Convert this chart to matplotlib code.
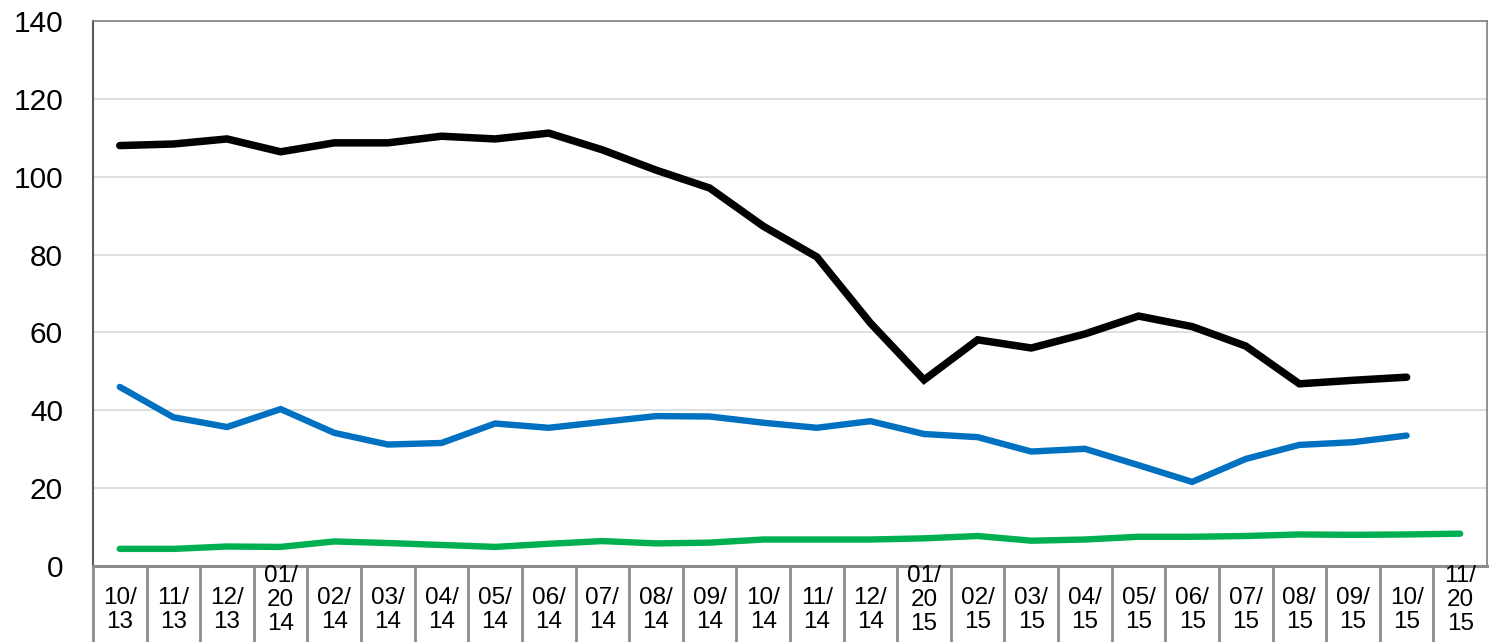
import numpy as np
import matplotlib
matplotlib.use("Agg")
import matplotlib.pyplot as plt
from matplotlib.lines import Line2D

plt.rcParams["font.family"] = ["Liberation Sans", "DejaVu Sans"]

months = ["10/\n13", "11/\n13", "12/\n13", "01/\n20\n14", "02/\n14", "03/\n14", "04/\n14",
          "05/\n14", "06/\n14", "07/\n14", "08/\n14", "09/\n14", "10/\n14", "11/\n14",
          "12/\n14", "01/\n20\n15", "02/\n15", "03/\n15", "04/\n15", "05/\n15", "06/\n15",
          "07/\n15", "08/\n15", "09/\n15", "10/\n15", "11/\n20\n15"]

# last month has no value for the black and blue series
black_vals = [108.0, 108.4, 109.7, 106.4, 108.7, 108.7, 110.4, 109.7, 111.2, 106.9,
              101.7, 97.1, 87.3, 79.4, 62.4, 47.8, 58.1, 56.0, 59.6, 64.2,
              61.5, 56.5, 46.8, 47.7, 48.5, np.nan]
blue_vals = [46.0, 38.2, 35.7, 40.3, 34.2, 31.2, 31.6, 36.6, 35.5, 37.0,
             38.5, 38.4, 36.8, 35.5, 37.2, 33.9, 33.1, 29.4, 30.1, 25.9,
             21.6, 27.5, 31.1, 31.8, 33.5, np.nan]
green_vals = [4.4, 4.4, 5.0, 4.9, 6.3, 5.9, 5.4, 4.9, 5.7, 6.4,
              5.8, 6.0, 6.8, 6.8, 6.8, 7.1, 7.7, 6.5, 6.8, 7.5,
              7.5, 7.7, 8.1, 8.0, 8.1, 8.3]
yticks = [0, 20, 40, 60, 80, 100, 120, 140]

fig = plt.figure(figsize=(14.9, 6.42), dpi=100)
ax = fig.add_axes([0.0624, 0.1184, 0.9356, 0.8489])

x = np.arange(len(months))
ax.plot(x, black_vals, color="#000000", lw=5.4, solid_capstyle="round", solid_joinstyle="miter", zorder=3)
ax.plot(x, blue_vals, color="#0070C0", lw=4.6, solid_capstyle="round", solid_joinstyle="miter", zorder=3)
ax.plot(x, green_vals, color="#00B050", lw=4.6, solid_capstyle="round", solid_joinstyle="miter", zorder=3)

ax.set_xlim(-0.5, len(months) - 0.5)
ax.set_ylim(0, 140)
ax.set_yticks(yticks)
ax.set_yticklabels([str(v) for v in yticks], fontsize=21.5)
ax.tick_params(axis="y", length=0, pad=21.5)
ax.set_xticks([])
ax.yaxis.grid(True, color="#d9d9d9", lw=1.2)
ax.set_axisbelow(True)

for side in ["top", "right"]:
    ax.spines[side].set_color("#7f7f7f")
    ax.spines[side].set_linewidth(1.2)
ax.spines["left"].set_color("#595959")
ax.spines["left"].set_linewidth(1.5)
ax.spines["bottom"].set_color("#8c8c8c")
ax.spines["bottom"].set_linewidth(2.2)

# category table below the axis
trans = ax.get_xaxis_transform()
for i in range(len(months)):
    ax.add_line(Line2D([i - 0.5, i - 0.5], [0, -0.15], transform=trans,
                       color="#8c8c8c", lw=2.0, clip_on=False))
for i, lab in enumerate(months):
    yy = -0.0632 if lab.count("\n") == 2 else -0.0816
    ax.text(i, yy, lab, transform=trans, ha="center", va="center",
            fontsize=17.5, linespacing=1.12, clip_on=False)

fig.savefig("out.png", dpi=100)
